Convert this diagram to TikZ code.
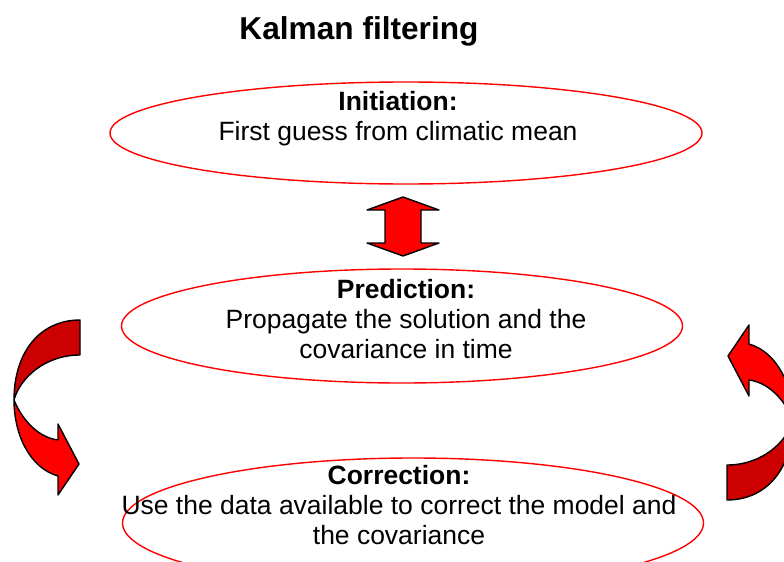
\documentclass[tikz,border=0pt]{standalone}
\usepackage{fontspec}
\setmainfont{Liberation Sans}
\usetikzlibrary{shapes.geometric}

\definecolor{kred}{RGB}{255,0,0}
\definecolor{kdark}{RGB}{204,0,0}

% twisted band arrow, drawn on the left; rotated copy on the right
\newcommand{\twistarrow}{%
  \filldraw[band, fill=kdark]
    (80,320) .. controls (40,320) and (14,352) .. (14,400)
    .. controls (20,378) and (45,355) .. (80,355) -- cycle;
  \filldraw[band, fill=kred]
    (14,400) .. controls (20,415) and (35,437) .. (58,440)
    -- (58,424) -- (79,464) -- (58,495) -- (58,476)
    .. controls (30,468) and (14,435) .. (14,400) -- cycle;
}

\begin{document}
\begin{tikzpicture}[x=0.03cm, y=-0.03cm,
    font=\fontsize{22.6}{26}\selectfont,
    stage/.style={ellipse, draw=kred, line width=1.2pt, inner sep=0pt},
    label/.style={align=center, inner sep=0pt},
    band/.style={draw=black, line width=1.2pt, line join=round}]
  \useasboundingbox (0,0) rectangle (784,562);
  \clip (0,0) rectangle (784,562);

  % Title
  \node[font=\fontsize{27}{32}\selectfont\bfseries] (title) at (359,31) {Kalman filtering};

  % The three stages
  \node[stage, minimum width=17.76cm, minimum height=3.06cm] (init) at (406,133) {};
  \node[stage, minimum width=16.83cm, minimum height=3.42cm] (pred) at (402,326) {};
  \node[stage, minimum width=17.43cm, minimum height=3.9cm] (corr) at (413,523) {};

  \node[label] (initText) at (398,118.5) {\textbf{Initiation:}\\First guess from climatic mean};
  \node[label] (predText) at (406,319) {\textbf{Prediction:}\\Propagate the solution and the\\covariance in time};
  \node[label] (corrText) at (399,505) {\textbf{Correction:}\\Use the data available to correct the model and\\the covariance};

  % Double arrow between initiation and prediction
  \filldraw[band, fill=kred]
    (403,197) -- (439,210) -- (421,210) -- (421,243) -- (439,243) -- (403,256)
    -- (367,243) -- (385,243) -- (385,210) -- (367,210) -- cycle;

  % Loop arrows
  \twistarrow
  \begin{scope}[rotate around={180:(403.5,410)}]
    \twistarrow
  \end{scope}
\end{tikzpicture}
\end{document}
